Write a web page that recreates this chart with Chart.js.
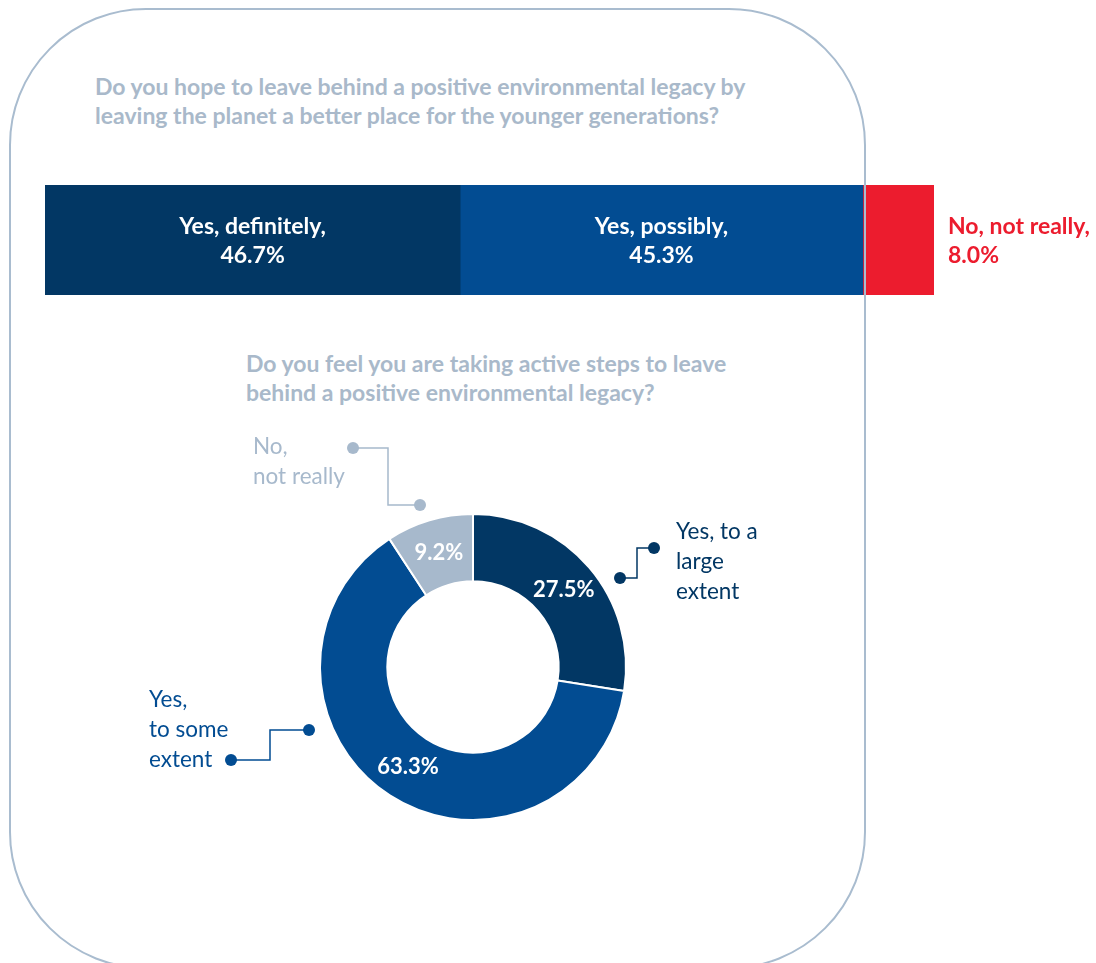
<!DOCTYPE html>
<html>
<head>
<meta charset="utf-8">
<script src="https://cdn.jsdelivr.net/npm/chart.js"></script>
<style>
  html, body { margin: 0; padding: 0; background: #fff; }
  body { width: 1096px; height: 963px; position: relative; overflow: hidden; font-family: Lato, "Open Sans", sans-serif; }
  canvas { position: absolute; left: 0; top: 0; }
  .frame {
    position: absolute; left: 9px; top: 8px; width: 857px; height: 961px;
    box-sizing: border-box; border: 2px solid #a9bccf; border-radius: 137px;
    pointer-events: none; z-index: 5;
  }
  .title {
    position: absolute; color: #a9b9ca; font-weight: bold; font-size: 23px; line-height: 29px;
  }
</style>
</head>
<body>
<div class="title" style="left:95px; top:72px;">Do you hope to leave behind a positive environmental legacy by<br>leaving the planet a better place for the younger generations?</div>
<div class="title" style="left:246px; top:349px;">Do you feel you are taking active steps to leave<br>behind a positive environmental legacy?</div>
<canvas id="barChart" width="1096" height="963"></canvas>
<canvas id="donutChart" width="1096" height="963"></canvas>
<div class="frame"></div>
<script>
// Question 1: stacked bar
const hopeLabels = ['Yes, definitely,', 'Yes, possibly,', 'No, not really,'];
const hopeValues = [46.7, 45.3, 8.0];
const hopeColors = ['#023764', '#024c92', '#ec1c2e'];

// Question 2: doughnut
const stepsLabels = [['Yes, to a', 'large', 'extent'], ['Yes,', 'to some', 'extent'], ['No,', 'not really']];
const stepsValues = [27.5, 63.3, 9.2];
const stepsColors = ['#023764', '#024c92', '#a7b9cc'];

// bar labels
const barLabelPlugin = {
  id: 'barLabels',
  afterDatasetsDraw(chart) {
    const ctx = chart.ctx;
    ctx.save();
    ctx.font = 'bold 23px Lato, "Open Sans", sans-serif';
    ctx.textBaseline = 'middle';
    chart.data.datasets.forEach((ds, i) => {
      const bar = chart.getDatasetMeta(i).data[0];
      const pct = ds.data[0].toFixed(1) + '%';
      if (i < 2) {
        ctx.fillStyle = '#fff';
        ctx.textAlign = 'center';
        const cx = (bar.x + bar.base) / 2;
        ctx.fillText(ds.label, cx, bar.y - 13);
        ctx.fillText(pct, cx, bar.y + 16);
      } else {
        ctx.fillStyle = ds.backgroundColor;
        ctx.textAlign = 'left';
        ctx.fillText(ds.label, bar.x + 14, bar.y - 13);
        ctx.fillText(pct, bar.x + 14, bar.y + 16);
      }
    });
    ctx.restore();
  }
};

new Chart(document.getElementById('barChart'), {
  type: 'bar',
  data: {
    labels: [''],
    datasets: hopeValues.map((v, i) => ({
      label: hopeLabels[i],
      data: [v],
      backgroundColor: hopeColors[i],
      borderWidth: 0,
      barPercentage: 1,
      categoryPercentage: 1
    }))
  },
  options: {
    indexAxis: 'y',
    responsive: false,
    animation: false,
    layout: { padding: { left: 45, right: 162, top: 185, bottom: 668 } },
    scales: {
      x: { stacked: true, min: 0, max: 100, display: false },
      y: { stacked: true, display: false }
    },
    plugins: { legend: { display: false }, tooltip: { enabled: false } }
  },
  plugins: [barLabelPlugin]
});

// callout leader offsets from doughnut centre
const callouts = [
  { path: [[181, -119], [164, -119], [164, -89], [147, -89]], text: [203, -135] },
  { path: [[-164, 63], [-203, 63], [-203, 93], [-242, 93]], text: [-324, 33] },
  { path: [[-53, -162], [-85, -162], [-85, -219], [-120, -219]], text: [-220, -220] }
];

const donutLabelPlugin = {
  id: 'donutLabels',
  afterDatasetsDraw(chart) {
    const ctx = chart.ctx;
    const meta = chart.getDatasetMeta(0);
    const cx = meta.data[0].x, cy = meta.data[0].y;
    ctx.save();
    ctx.textBaseline = 'middle';
    meta.data.forEach((arc, i) => {
      const p = arc.tooltipPosition();
      ctx.fillStyle = '#fff';
      ctx.textAlign = 'center';
      ctx.font = 'bold 22px Lato, "Open Sans", sans-serif';
      ctx.fillText(stepsValues[i].toFixed(1) + '%', p.x, p.y);

      const c = callouts[i];
      ctx.strokeStyle = stepsColors[i];
      ctx.fillStyle = stepsColors[i];
      ctx.lineWidth = 1.5;
      ctx.beginPath();
      c.path.forEach((pt, k) => {
        if (k === 0) ctx.moveTo(cx + pt[0], cy + pt[1]);
        else ctx.lineTo(cx + pt[0], cy + pt[1]);
      });
      ctx.stroke();
      [c.path[0], c.path[c.path.length - 1]].forEach(pt => {
        ctx.beginPath();
        ctx.arc(cx + pt[0], cy + pt[1], 6, 0, Math.PI * 2);
        ctx.fill();
      });
      ctx.textAlign = 'left';
      ctx.font = '22.5px Lato, "Open Sans", sans-serif';
      stepsLabels[i].forEach((line, k) => {
        ctx.fillText(line, cx + c.text[0], cy + c.text[1] + k * 30);
      });
    });
    ctx.restore();
  }
};

new Chart(document.getElementById('donutChart'), {
  type: 'doughnut',
  data: {
    labels: stepsLabels.map(l => l.join(' ')),
    datasets: [{
      data: stepsValues,
      backgroundColor: stepsColors,
      borderColor: '#fff',
      borderWidth: 2
    }]
  },
  options: {
    responsive: false,
    animation: false,
    radius: 153,
    cutout: '56%',
    layout: { padding: { left: 0, right: 150, top: 371, bottom: 0 } },
    plugins: { legend: { display: false }, tooltip: { enabled: false } }
  },
  plugins: [donutLabelPlugin]
});
</script>
</body>
</html>
